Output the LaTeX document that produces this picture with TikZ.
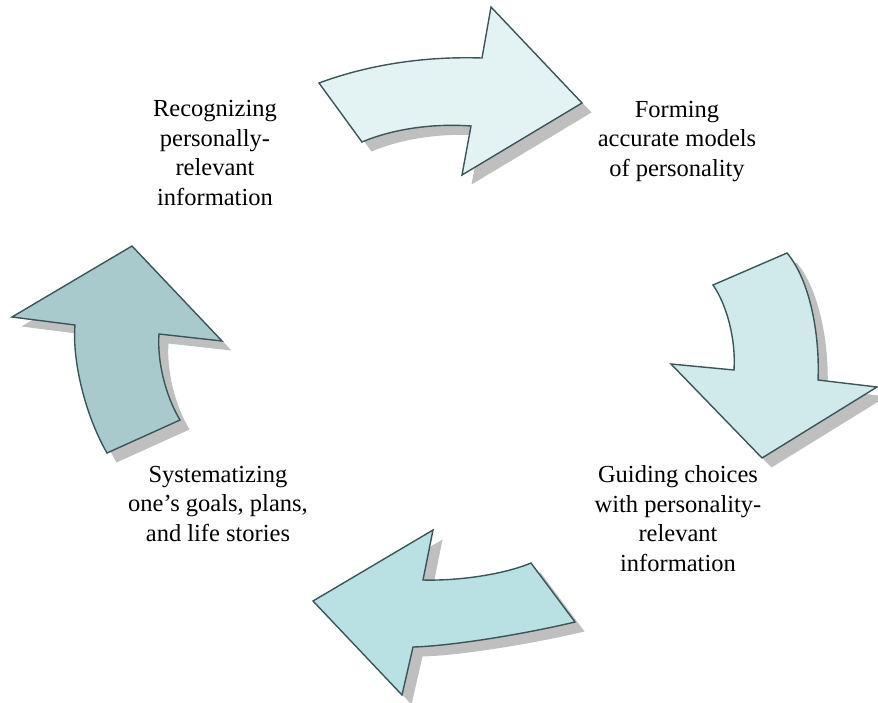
\documentclass[tikz,border=0pt]{standalone}
\usepackage{fontspec}
\setmainfont{Liberation Serif}
\definecolor{mEdge}{HTML}{3C5558}
\definecolor{mShadow}{HTML}{BFBFBF}
\definecolor{mTopFill}{HTML}{E3F3F3}
\definecolor{mRightFill}{HTML}{D0E9EB}
\definecolor{mBottomFill}{HTML}{B9E0E3}
\definecolor{mLeftFill}{HTML}{A8CACD}

% outlines of the four curved arrows (y grows downwards)
\newcommand{\arrowTop}{(319,83) .. controls (365,66) and (420,56) .. (482,58)
  -- (491,7) -- (582,103) -- (462,175) -- (471,126)
  .. controls (430,123) and (390,130) .. (362,142) -- cycle}
\newcommand{\arrowRight}{(713,285) .. controls (727,305) and (736,340) .. (734,370)
  -- (671,364) -- (762,458) -- (877,387) -- (818,380)
  .. controls (820,335) and (810,280) .. (787,253) -- cycle}
\newcommand{\arrowBottom}{(531,563) .. controls (505,574) and (460,581) .. (423,580)
  -- (433,530) -- (313,601) -- (402,695) -- (413,647)
  .. controls (450,646) and (520,635) .. (575,622) -- cycle}
\newcommand{\arrowLeft}{(107,453) .. controls (85,415) and (72,360) .. (75,325)
  -- (12,317) -- (132,246) -- (222,341) -- (159,334)
  .. controls (157,360) and (165,395) .. (180,420) -- cycle}

\begin{document}
\begin{tikzpicture}[
    x=1pt, y=-1pt,
    shade/.style={fill=mShadow, shift={(9.5,9.5)}},
    curvearrow/.style={draw=mEdge, line width=1.4pt, line join=miter},
    label/.style={align=center, inner sep=0pt, font=\fontsize{24.5}{29.5}\selectfont}
]
    \useasboundingbox (0,0) rectangle (878,702);

    % drop shadows
    \fill[shade] \arrowTop;
    \fill[shade] \arrowRight;
    \fill[shade] \arrowBottom;
    \fill[shade] \arrowLeft;

    % arrows
    \filldraw[curvearrow, fill=mTopFill] \arrowTop;
    \filldraw[curvearrow, fill=mRightFill] \arrowRight;
    \filldraw[curvearrow, fill=mBottomFill] \arrowBottom;
    \filldraw[curvearrow, fill=mLeftFill] \arrowLeft;

    % stages
    \node[label] (recog) at (215,153) {Recognizing\\personally-\\relevant\\information};
    \node[label] (form) at (677,141.5) {Forming\\accurate models\\of personality};
    \node[label] (guide) at (678,518.5) {Guiding choices\\with personality-\\relevant\\information};
    \node[label] (system) at (218,503.5) {Systematizing\\one’s goals, plans,\\and life stories};
\end{tikzpicture}
\end{document}
